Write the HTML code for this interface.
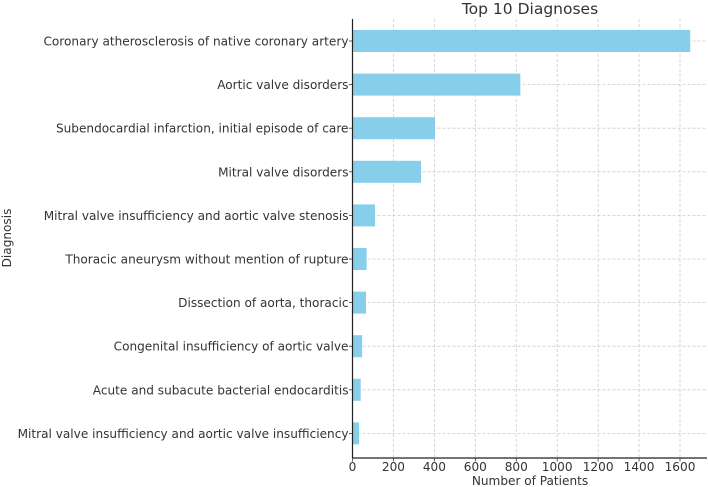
<!DOCTYPE html>
<html><head><meta charset="utf-8"><style>
html,body{margin:0;padding:0;background:#fff;width:708px;height:487px;overflow:hidden}
svg text{font-family:"DejaVu Sans","Liberation Sans",sans-serif;fill:#333}
</style></head><body>
<svg id="chart" width="708" height="487" xmlns="http://www.w3.org/2000/svg"></svg>
<script>
const categories = ["Coronary atherosclerosis of native coronary artery","Aortic valve disorders","Subendocardial infarction, initial episode of care","Mitral valve disorders","Mitral valve insufficiency and aortic valve stenosis","Thoracic aneurysm without mention of rupture","Dissection of aorta, thoracic","Congenital insufficiency of aortic valve","Acute and subacute bacterial endocarditis","Mitral valve insufficiency and aortic valve insufficiency"];
const values = [1650, 820, 403, 335, 110, 69, 66, 47, 40, 32];
const xTicks = [0,200,400,600,800,1000,1200,1400,1600];

const NS="http://www.w3.org/2000/svg";
const svg=document.getElementById('chart');
const L=352.5,R=707,T=19,B=458;
function x(v){return L+v*(327.5/1600);}
const step=43.6;
function yc(i){return 41+i*step;}
function mk(tag,attrs,txt){const e=document.createElementNS(NS,tag);for(const k in attrs)e.setAttribute(k,attrs[k]);if(txt!==undefined)e.textContent=txt;svg.appendChild(e);return e;}

xTicks.forEach(t=>{
  const g=mk('line',{x1:x(t),x2:x(t),y1:T,y2:B,stroke:'#ccc','stroke-width':0.8,'stroke-dasharray':'3,2'});
  
  
});
categories.forEach((c,i)=>{
  const g=mk('line',{x1:L,x2:R,y1:yc(i),y2:yc(i),stroke:'#ccc','stroke-width':0.8,'stroke-dasharray':'3,2'});
  
  
});
categories.forEach((c,i)=>{
  const b=mk('rect',{x:L,y:yc(i)-11,width:x(values[i])-L,height:22,fill:'#87CEEB'});
  
  
  const tk=mk('line',{x1:L-3.5,x2:L,y1:yc(i),y2:yc(i),stroke:'#333','stroke-width':0.8});
  
  
  const lb=mk('text',{x:L-4,y:yc(i)+4.5,'text-anchor':'end','font-size':12.1},c);
  
  
});
const ay=mk('line',{x1:L,x2:L,y1:T,y2:B,stroke:'#222','stroke-width':1.2});


const ax=mk('line',{x1:L,x2:R,y1:B,y2:B,stroke:'#222','stroke-width':1.2});


xTicks.forEach(t=>{
  const tk=mk('line',{x1:x(t),x2:x(t),y1:B,y2:B+3.5,stroke:'#333','stroke-width':0.8});
  
  
  const lb=mk('text',{x:x(t),y:B+13,'text-anchor':'middle','font-size':12.1},String(t));
  
  
});
const xt=mk('text',{x:530,y:485,'text-anchor':'middle','font-size':12.1},'Number of Patients');


const yt=mk('text',{x:0,y:0,'text-anchor':'middle','font-size':12.1,transform:'translate(11,238) rotate(-90)'},'Diagnosis');


const tt=mk('text',{x:530,y:14,'text-anchor':'middle','font-size':15.5},'Top 10 Diagnoses');


</script>
</body></html>
